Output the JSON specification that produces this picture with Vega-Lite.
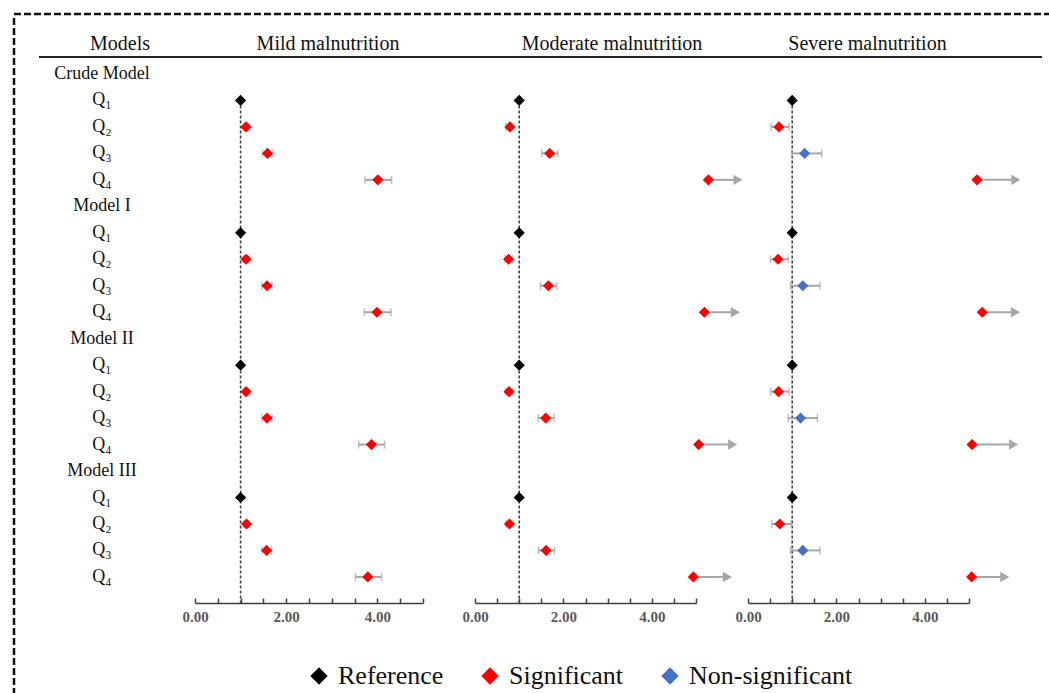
{
  "$schema": "https://vega.github.io/schema/vega-lite/v6.json",
  "padding": {"left": 12, "top": 12, "right": 0, "bottom": 0},
  "config": {
    "view": {"stroke": null},
    "font": "Liberation Serif",
    "axisX": {"grid": false, "domainColor": "#404040", "domainWidth": 1.5, "tickColor": "#404040", "tickWidth": 1.5, "tickSize": -5, "labelFont": "Liberation Serif", "labelFontSize": 15, "labelFontWeight": "bold", "labelColor": "#595959", "labelPadding": 11, "labelFlush": false, "labelOverlap": false}
  },
  "datasets": {
    "labels": [
      {"row": 0, "label": "Crude Model"}, {"row": 1, "label": "Q₁"}, {"row": 2, "label": "Q₂"}, {"row": 3, "label": "Q₃"}, {"row": 4, "label": "Q₄"},
      {"row": 5, "label": "Model I"}, {"row": 6, "label": "Q₁"}, {"row": 7, "label": "Q₂"}, {"row": 8, "label": "Q₃"}, {"row": 9, "label": "Q₄"},
      {"row": 10, "label": "Model II"}, {"row": 11, "label": "Q₁"}, {"row": 12, "label": "Q₂"}, {"row": 13, "label": "Q₃"}, {"row": 14, "label": "Q₄"},
      {"row": 15, "label": "Model III"}, {"row": 16, "label": "Q₁"}, {"row": 17, "label": "Q₂"}, {"row": 18, "label": "Q₃"}, {"row": 19, "label": "Q₄"}
    ],
    "points": [
      {"panel": "Mild", "row": 1, "est": 1, "sig": "Reference"},
      {"panel": "Mild", "row": 2, "est": 1.12, "lo": 1.06, "hi": 1.18, "sig": "Significant"},
      {"panel": "Mild", "row": 3, "est": 1.59, "lo": 1.48, "hi": 1.70, "sig": "Significant"},
      {"panel": "Mild", "row": 4, "est": 4.01, "lo": 3.73, "hi": 4.31, "sig": "Significant"},
      {"panel": "Mild", "row": 6, "est": 1, "sig": "Reference"},
      {"panel": "Mild", "row": 7, "est": 1.12, "lo": 1.06, "hi": 1.18, "sig": "Significant"},
      {"panel": "Mild", "row": 8, "est": 1.58, "lo": 1.47, "hi": 1.69, "sig": "Significant"},
      {"panel": "Mild", "row": 9, "est": 3.99, "lo": 3.71, "hi": 4.30, "sig": "Significant"},
      {"panel": "Mild", "row": 11, "est": 1, "sig": "Reference"},
      {"panel": "Mild", "row": 12, "est": 1.12, "lo": 1.06, "hi": 1.18, "sig": "Significant"},
      {"panel": "Mild", "row": 13, "est": 1.58, "lo": 1.47, "hi": 1.69, "sig": "Significant"},
      {"panel": "Mild", "row": 14, "est": 3.87, "lo": 3.59, "hi": 4.16, "sig": "Significant"},
      {"panel": "Mild", "row": 16, "est": 1, "sig": "Reference"},
      {"panel": "Mild", "row": 17, "est": 1.13, "lo": 1.07, "hi": 1.19, "sig": "Significant"},
      {"panel": "Mild", "row": 18, "est": 1.57, "lo": 1.47, "hi": 1.68, "sig": "Significant"},
      {"panel": "Mild", "row": 19, "est": 3.79, "lo": 3.52, "hi": 4.09, "sig": "Significant"},

      {"panel": "Moderate", "row": 1, "est": 1, "sig": "Reference"},
      {"panel": "Moderate", "row": 2, "est": 0.79, "lo": 0.70, "hi": 0.87, "sig": "Significant"},
      {"panel": "Moderate", "row": 3, "est": 1.69, "lo": 1.51, "hi": 1.88, "sig": "Significant"},
      {"panel": "Moderate", "row": 4, "est": 5.28, "arrow": 5.95, "sig": "Significant"},
      {"panel": "Moderate", "row": 6, "est": 1, "sig": "Reference"},
      {"panel": "Moderate", "row": 7, "est": 0.76, "lo": 0.68, "hi": 0.85, "sig": "Significant"},
      {"panel": "Moderate", "row": 8, "est": 1.66, "lo": 1.48, "hi": 1.85, "sig": "Significant"},
      {"panel": "Moderate", "row": 9, "est": 5.19, "arrow": 5.89, "sig": "Significant"},
      {"panel": "Moderate", "row": 11, "est": 1, "sig": "Reference"},
      {"panel": "Moderate", "row": 12, "est": 0.77, "lo": 0.69, "hi": 0.86, "sig": "Significant"},
      {"panel": "Moderate", "row": 13, "est": 1.60, "lo": 1.43, "hi": 1.79, "sig": "Significant"},
      {"panel": "Moderate", "row": 14, "est": 5.06, "arrow": 5.83, "sig": "Significant"},
      {"panel": "Moderate", "row": 16, "est": 1, "sig": "Reference"},
      {"panel": "Moderate", "row": 17, "est": 0.78, "lo": 0.70, "hi": 0.87, "sig": "Significant"},
      {"panel": "Moderate", "row": 18, "est": 1.61, "lo": 1.44, "hi": 1.80, "sig": "Significant"},
      {"panel": "Moderate", "row": 19, "est": 4.94, "arrow": 5.71, "sig": "Significant"},

      {"panel": "Severe", "row": 1, "est": 1, "sig": "Reference"},
      {"panel": "Severe", "row": 2, "est": 0.70, "lo": 0.52, "hi": 0.93, "sig": "Significant"},
      {"panel": "Severe", "row": 3, "est": 1.28, "lo": 0.99, "hi": 1.67, "sig": "Non-significant"},
      {"panel": "Severe", "row": 4, "est": 5.18, "arrow": 6.06, "sig": "Significant"},
      {"panel": "Severe", "row": 6, "est": 1, "sig": "Reference"},
      {"panel": "Severe", "row": 7, "est": 0.68, "lo": 0.51, "hi": 0.91, "sig": "Significant"},
      {"panel": "Severe", "row": 8, "est": 1.24, "lo": 0.96, "hi": 1.63, "sig": "Non-significant"},
      {"panel": "Severe", "row": 9, "est": 5.30, "arrow": 6.05, "sig": "Significant"},
      {"panel": "Severe", "row": 11, "est": 1, "sig": "Reference"},
      {"panel": "Severe", "row": 12, "est": 0.69, "lo": 0.52, "hi": 0.93, "sig": "Significant"},
      {"panel": "Severe", "row": 13, "est": 1.19, "lo": 0.91, "hi": 1.57, "sig": "Non-significant"},
      {"panel": "Severe", "row": 14, "est": 5.07, "arrow": 6.01, "sig": "Significant"},
      {"panel": "Severe", "row": 16, "est": 1, "sig": "Reference"},
      {"panel": "Severe", "row": 17, "est": 0.72, "lo": 0.54, "hi": 0.98, "sig": "Significant"},
      {"panel": "Severe", "row": 18, "est": 1.24, "lo": 0.96, "hi": 1.63, "sig": "Non-significant"},
      {"panel": "Severe", "row": 19, "est": 5.06, "arrow": 5.81, "sig": "Significant"}
    ]
  },
  "spacing": 0,
  "bounds": "full",
  "vconcat": [
    {
      "width": 1037, "height": 1,
      "data": {"values": [{}]},
      "mark": {"type": "rule", "color": "#111111", "strokeWidth": 2.5, "strokeDash": [7, 3]},
      "encoding": {"x": {"value": 0}, "x2": {"value": "width"}, "y": {"value": 0}}
    },
    {
      "spacing": 24,
      "bounds": "flush",
      "hconcat": [
        {
          "width": 1, "height": 679,
          "data": {"values": [{}]},
          "mark": {"type": "rule", "color": "#111111", "strokeWidth": 2.5, "strokeDash": [7, 3]},
          "encoding": {"x": {"value": 0}, "y": {"value": 0}, "y2": {"value": "height"}}
        },
        {
          "spacing": 0,
          "bounds": "full",
          "vconcat": [
            {
              "spacing": 0,
              "bounds": "flush",
              "hconcat": [
                {
                  "width": 162, "height": 39,
                  "data": {"values": [{"t": "Models"}]},
                  "layer": [
                    {"mark": {"type": "text", "font": "Liberation Serif", "fontSize": 20, "dy": 6, "color": "#111111"}, "encoding": {"text": {"field": "t"}}},
                    {"mark": {"type": "rule", "color": "#222222", "strokeWidth": 2}, "encoding": {"x": {"value": 0}, "x2": {"value": "width"}, "y": {"value": "height"}}}
                  ]
                },
                {
                  "width": 254, "height": 39,
                  "data": {"values": [{"t": "Mild malnutrition"}]},
                  "layer": [
                    {"mark": {"type": "text", "font": "Liberation Serif", "fontSize": 20, "dy": 6, "color": "#111111"}, "encoding": {"text": {"field": "t"}}},
                    {"mark": {"type": "rule", "color": "#222222", "strokeWidth": 2}, "encoding": {"x": {"value": 0}, "x2": {"value": "width"}, "y": {"value": "height"}}}
                  ]
                },
                {
                  "width": 314, "height": 39,
                  "data": {"values": [{"t": "Moderate malnutrition"}]},
                  "layer": [
                    {"mark": {"type": "text", "font": "Liberation Serif", "fontSize": 20, "dy": 6, "color": "#111111"}, "encoding": {"text": {"field": "t"}}},
                    {"mark": {"type": "rule", "color": "#222222", "strokeWidth": 2}, "encoding": {"x": {"value": 0}, "x2": {"value": "width"}, "y": {"value": "height"}}}
                  ]
                },
                {
                  "width": 273, "height": 39,
                  "data": {"values": [{"t": "Severe malnutrition"}]},
                  "layer": [
                    {"mark": {"type": "text", "font": "Liberation Serif", "fontSize": 20, "dy": 6, "dx": -38, "color": "#111111"}, "encoding": {"text": {"field": "t"}}},
                    {"mark": {"type": "rule", "color": "#222222", "strokeWidth": 2}, "encoding": {"x": {"value": 0}, "x2": {"value": "width"}, "y": {"value": "height"}}}
                  ]
                }
              ]
            },
            {
              "spacing": 52,
              "bounds": "flush",
              "hconcat": [
                {
                  "width": 104, "height": 545,
                  "data": {"name": "labels"},
                  "mark": {"type": "text", "font": "Liberation Serif", "fontSize": 18, "dx": 11, "align": "center", "baseline": "middle", "color": "#111111"},
                  "encoding": {
                    "y": {"field": "row", "type": "quantitative", "scale": {"domain": [-0.604, 19.985], "reverse": true, "nice": false, "zero": false}, "axis": null},
                    "text": {"field": "label"}
                  }
                },
                {
                  "width": 228, "height": 545,
                  "layer": [
                    {
                      "data": {"values": [{}]},
                      "mark": {"type": "rule", "color": "#444444", "strokeWidth": 1.6, "strokeDash": [3, 2]},
                      "encoding": {
                        "x": {"datum": 1, "type": "quantitative", "scale": {"domain": [0, 5], "nice": false, "zero": false}, "axis": {"values": [0, 0.5, 1, 1.5, 2, 2.5, 3, 3.5, 4, 4.5, 5], "labelExpr": "datum.value % 2 == 0 ? format(datum.value, '.2f') : ''", "title": null}},
                        "y": {"datum": 1, "type": "quantitative", "scale": {"domain": [-0.604, 19.985], "reverse": true, "nice": false, "zero": false}, "axis": null},
                        "y2": {"value": "height"}
                      }
                    },
                    {
                      "data": {"name": "points"},
                      "transform": [{"filter": "datum.panel == 'Mild' && isValid(datum.lo)"}],
                      "mark": {"type": "rule", "color": "#A6A6A6", "strokeWidth": 2},
                      "encoding": {
                        "x": {"field": "lo", "type": "quantitative", "scale": {"domain": [0, 5], "nice": false, "zero": false}, "axis": {"values": [0, 0.5, 1, 1.5, 2, 2.5, 3, 3.5, 4, 4.5, 5], "labelExpr": "datum.value % 2 == 0 ? format(datum.value, '.2f') : ''", "title": null}},
                        "x2": {"field": "hi"},
                        "y": {"field": "row", "type": "quantitative", "scale": {"domain": [-0.604, 19.985], "reverse": true, "nice": false, "zero": false}, "axis": null}
                      }
                    },
                    {
                      "data": {"name": "points"},
                      "transform": [{"filter": "datum.panel == 'Mild' && isValid(datum.lo)"}],
                      "mark": {"type": "tick", "orient": "vertical", "color": "#A6A6A6", "thickness": 1.5, "size": 8},
                      "encoding": {
                        "x": {"field": "lo", "type": "quantitative", "scale": {"domain": [0, 5], "nice": false, "zero": false}, "axis": {"values": [0, 0.5, 1, 1.5, 2, 2.5, 3, 3.5, 4, 4.5, 5], "labelExpr": "datum.value % 2 == 0 ? format(datum.value, '.2f') : ''", "title": null}},
                        "y": {"field": "row", "type": "quantitative", "scale": {"domain": [-0.604, 19.985], "reverse": true, "nice": false, "zero": false}, "axis": null}
                      }
                    },
                    {
                      "data": {"name": "points"},
                      "transform": [{"filter": "datum.panel == 'Mild' && isValid(datum.hi)"}],
                      "mark": {"type": "tick", "orient": "vertical", "color": "#A6A6A6", "thickness": 1.5, "size": 8},
                      "encoding": {
                        "x": {"field": "hi", "type": "quantitative", "scale": {"domain": [0, 5], "nice": false, "zero": false}, "axis": {"values": [0, 0.5, 1, 1.5, 2, 2.5, 3, 3.5, 4, 4.5, 5], "labelExpr": "datum.value % 2 == 0 ? format(datum.value, '.2f') : ''", "title": null}},
                        "y": {"field": "row", "type": "quantitative", "scale": {"domain": [-0.604, 19.985], "reverse": true, "nice": false, "zero": false}, "axis": null}
                      }
                    },
                    {
                      "data": {"name": "points"},
                      "transform": [{"filter": "datum.panel == 'Mild'"}],
                      "mark": {"type": "point", "shape": "diamond", "filled": true, "size": 125, "opacity": 1},
                      "encoding": {
                        "x": {"field": "est", "type": "quantitative", "scale": {"domain": [0, 5], "nice": false, "zero": false}, "axis": {"values": [0, 0.5, 1, 1.5, 2, 2.5, 3, 3.5, 4, 4.5, 5], "labelExpr": "datum.value % 2 == 0 ? format(datum.value, '.2f') : ''", "title": null}},
                        "y": {"field": "row", "type": "quantitative", "scale": {"domain": [-0.604, 19.985], "reverse": true, "nice": false, "zero": false}, "axis": null},
                        "color": {"field": "sig", "type": "nominal", "scale": {"domain": ["Reference", "Significant", "Non-significant"], "range": ["#000000", "#FF0000", "#4472C4"]},
                          "legend": {"title": null, "orient": "none", "legendX": 292, "legendY": 649, "direction": "horizontal", "symbolType": "diamond", "symbolSize": 300, "symbolStrokeWidth": 0, "labelFont": "Liberation Serif", "labelFontSize": 26, "labelColor": "#111111", "labelOffset": 6, "columnPadding": 33, "labelLimit": 0}}
                      }
                    }
                  ]
                },
                {
                  "width": 221, "height": 545,
                  "layer": [
                    {
                      "data": {"values": [{}]},
                      "mark": {"type": "rule", "color": "#444444", "strokeWidth": 1.6, "strokeDash": [3, 2]},
                      "encoding": {
                        "x": {"datum": 1, "type": "quantitative", "scale": {"domain": [0, 5], "nice": false, "zero": false}, "axis": {"values": [0, 0.5, 1, 1.5, 2, 2.5, 3, 3.5, 4, 4.5, 5], "labelExpr": "datum.value % 2 == 0 ? format(datum.value, '.2f') : ''", "title": null}},
                        "y": {"datum": 1, "type": "quantitative", "scale": {"domain": [-0.604, 19.985], "reverse": true, "nice": false, "zero": false}, "axis": null},
                        "y2": {"value": "height"}
                      }
                    },
                    {
                      "data": {"name": "points"},
                      "transform": [{"filter": "datum.panel == 'Moderate' && isValid(datum.lo)"}],
                      "mark": {"type": "rule", "color": "#A6A6A6", "strokeWidth": 2},
                      "encoding": {
                        "x": {"field": "lo", "type": "quantitative", "scale": {"domain": [0, 5], "nice": false, "zero": false}, "axis": {"values": [0, 0.5, 1, 1.5, 2, 2.5, 3, 3.5, 4, 4.5, 5], "labelExpr": "datum.value % 2 == 0 ? format(datum.value, '.2f') : ''", "title": null}},
                        "x2": {"field": "hi"},
                        "y": {"field": "row", "type": "quantitative", "scale": {"domain": [-0.604, 19.985], "reverse": true, "nice": false, "zero": false}, "axis": null}
                      }
                    },
                    {
                      "data": {"name": "points"},
                      "transform": [{"filter": "datum.panel == 'Moderate' && isValid(datum.lo)"}],
                      "mark": {"type": "tick", "orient": "vertical", "color": "#A6A6A6", "thickness": 1.5, "size": 8},
                      "encoding": {
                        "x": {"field": "lo", "type": "quantitative", "scale": {"domain": [0, 5], "nice": false, "zero": false}, "axis": {"values": [0, 0.5, 1, 1.5, 2, 2.5, 3, 3.5, 4, 4.5, 5], "labelExpr": "datum.value % 2 == 0 ? format(datum.value, '.2f') : ''", "title": null}},
                        "y": {"field": "row", "type": "quantitative", "scale": {"domain": [-0.604, 19.985], "reverse": true, "nice": false, "zero": false}, "axis": null}
                      }
                    },
                    {
                      "data": {"name": "points"},
                      "transform": [{"filter": "datum.panel == 'Moderate' && isValid(datum.hi)"}],
                      "mark": {"type": "tick", "orient": "vertical", "color": "#A6A6A6", "thickness": 1.5, "size": 8},
                      "encoding": {
                        "x": {"field": "hi", "type": "quantitative", "scale": {"domain": [0, 5], "nice": false, "zero": false}, "axis": {"values": [0, 0.5, 1, 1.5, 2, 2.5, 3, 3.5, 4, 4.5, 5], "labelExpr": "datum.value % 2 == 0 ? format(datum.value, '.2f') : ''", "title": null}},
                        "y": {"field": "row", "type": "quantitative", "scale": {"domain": [-0.604, 19.985], "reverse": true, "nice": false, "zero": false}, "axis": null}
                      }
                    },
                    {
                      "data": {"name": "points"},
                      "transform": [{"filter": "datum.panel == 'Moderate' && isValid(datum.arrow)"}],
                      "mark": {"type": "rule", "color": "#A6A6A6", "strokeWidth": 2},
                      "encoding": {
                        "x": {"field": "est", "type": "quantitative", "scale": {"domain": [0, 5], "nice": false, "zero": false}, "axis": {"values": [0, 0.5, 1, 1.5, 2, 2.5, 3, 3.5, 4, 4.5, 5], "labelExpr": "datum.value % 2 == 0 ? format(datum.value, '.2f') : ''", "title": null}},
                        "x2": {"field": "arrow"},
                        "y": {"field": "row", "type": "quantitative", "scale": {"domain": [-0.604, 19.985], "reverse": true, "nice": false, "zero": false}, "axis": null}
                      }
                    },
                    {
                      "data": {"name": "points"},
                      "transform": [{"filter": "datum.panel == 'Moderate' && isValid(datum.arrow)"}],
                      "mark": {"type": "point", "shape": "triangle-right", "filled": true, "color": "#A6A6A6", "size": 110, "opacity": 1},
                      "encoding": {
                        "x": {"field": "arrow", "type": "quantitative", "scale": {"domain": [0, 5], "nice": false, "zero": false}, "axis": {"values": [0, 0.5, 1, 1.5, 2, 2.5, 3, 3.5, 4, 4.5, 5], "labelExpr": "datum.value % 2 == 0 ? format(datum.value, '.2f') : ''", "title": null}},
                        "y": {"field": "row", "type": "quantitative", "scale": {"domain": [-0.604, 19.985], "reverse": true, "nice": false, "zero": false}, "axis": null}
                      }
                    },
                    {
                      "data": {"name": "points"},
                      "transform": [{"filter": "datum.panel == 'Moderate'"}],
                      "mark": {"type": "point", "shape": "diamond", "filled": true, "size": 125, "opacity": 1},
                      "encoding": {
                        "x": {"field": "est", "type": "quantitative", "scale": {"domain": [0, 5], "nice": false, "zero": false}, "axis": {"values": [0, 0.5, 1, 1.5, 2, 2.5, 3, 3.5, 4, 4.5, 5], "labelExpr": "datum.value % 2 == 0 ? format(datum.value, '.2f') : ''", "title": null}},
                        "y": {"field": "row", "type": "quantitative", "scale": {"domain": [-0.604, 19.985], "reverse": true, "nice": false, "zero": false}, "axis": null},
                        "color": {"field": "sig", "type": "nominal", "scale": {"domain": ["Reference", "Significant", "Non-significant"], "range": ["#000000", "#FF0000", "#4472C4"]},
                          "legend": {"title": null, "orient": "none", "legendX": 292, "legendY": 649, "direction": "horizontal", "symbolType": "diamond", "symbolSize": 300, "symbolStrokeWidth": 0, "labelFont": "Liberation Serif", "labelFontSize": 26, "labelColor": "#111111", "labelOffset": 6, "columnPadding": 33, "labelLimit": 0}}
                      }
                    }
                  ]
                },
                {
                  "width": 221, "height": 545,
                  "layer": [
                    {
                      "data": {"values": [{}]},
                      "mark": {"type": "rule", "color": "#444444", "strokeWidth": 1.6, "strokeDash": [3, 2]},
                      "encoding": {
                        "x": {"datum": 1, "type": "quantitative", "scale": {"domain": [0, 5], "nice": false, "zero": false}, "axis": {"values": [0, 0.5, 1, 1.5, 2, 2.5, 3, 3.5, 4, 4.5, 5], "labelExpr": "datum.value % 2 == 0 ? format(datum.value, '.2f') : ''", "title": null}},
                        "y": {"datum": 1, "type": "quantitative", "scale": {"domain": [-0.604, 19.985], "reverse": true, "nice": false, "zero": false}, "axis": null},
                        "y2": {"value": "height"}
                      }
                    },
                    {
                      "data": {"name": "points"},
                      "transform": [{"filter": "datum.panel == 'Severe' && isValid(datum.lo)"}],
                      "mark": {"type": "rule", "color": "#A6A6A6", "strokeWidth": 2},
                      "encoding": {
                        "x": {"field": "lo", "type": "quantitative", "scale": {"domain": [0, 5], "nice": false, "zero": false}, "axis": {"values": [0, 0.5, 1, 1.5, 2, 2.5, 3, 3.5, 4, 4.5, 5], "labelExpr": "datum.value % 2 == 0 ? format(datum.value, '.2f') : ''", "title": null}},
                        "x2": {"field": "hi"},
                        "y": {"field": "row", "type": "quantitative", "scale": {"domain": [-0.604, 19.985], "reverse": true, "nice": false, "zero": false}, "axis": null}
                      }
                    },
                    {
                      "data": {"name": "points"},
                      "transform": [{"filter": "datum.panel == 'Severe' && isValid(datum.lo)"}],
                      "mark": {"type": "tick", "orient": "vertical", "color": "#A6A6A6", "thickness": 1.5, "size": 8},
                      "encoding": {
                        "x": {"field": "lo", "type": "quantitative", "scale": {"domain": [0, 5], "nice": false, "zero": false}, "axis": {"values": [0, 0.5, 1, 1.5, 2, 2.5, 3, 3.5, 4, 4.5, 5], "labelExpr": "datum.value % 2 == 0 ? format(datum.value, '.2f') : ''", "title": null}},
                        "y": {"field": "row", "type": "quantitative", "scale": {"domain": [-0.604, 19.985], "reverse": true, "nice": false, "zero": false}, "axis": null}
                      }
                    },
                    {
                      "data": {"name": "points"},
                      "transform": [{"filter": "datum.panel == 'Severe' && isValid(datum.hi)"}],
                      "mark": {"type": "tick", "orient": "vertical", "color": "#A6A6A6", "thickness": 1.5, "size": 8},
                      "encoding": {
                        "x": {"field": "hi", "type": "quantitative", "scale": {"domain": [0, 5], "nice": false, "zero": false}, "axis": {"values": [0, 0.5, 1, 1.5, 2, 2.5, 3, 3.5, 4, 4.5, 5], "labelExpr": "datum.value % 2 == 0 ? format(datum.value, '.2f') : ''", "title": null}},
                        "y": {"field": "row", "type": "quantitative", "scale": {"domain": [-0.604, 19.985], "reverse": true, "nice": false, "zero": false}, "axis": null}
                      }
                    },
                    {
                      "data": {"name": "points"},
                      "transform": [{"filter": "datum.panel == 'Severe' && isValid(datum.arrow)"}],
                      "mark": {"type": "rule", "color": "#A6A6A6", "strokeWidth": 2},
                      "encoding": {
                        "x": {"field": "est", "type": "quantitative", "scale": {"domain": [0, 5], "nice": false, "zero": false}, "axis": {"values": [0, 0.5, 1, 1.5, 2, 2.5, 3, 3.5, 4, 4.5, 5], "labelExpr": "datum.value % 2 == 0 ? format(datum.value, '.2f') : ''", "title": null}},
                        "x2": {"field": "arrow"},
                        "y": {"field": "row", "type": "quantitative", "scale": {"domain": [-0.604, 19.985], "reverse": true, "nice": false, "zero": false}, "axis": null}
                      }
                    },
                    {
                      "data": {"name": "points"},
                      "transform": [{"filter": "datum.panel == 'Severe' && isValid(datum.arrow)"}],
                      "mark": {"type": "point", "shape": "triangle-right", "filled": true, "color": "#A6A6A6", "size": 110, "opacity": 1},
                      "encoding": {
                        "x": {"field": "arrow", "type": "quantitative", "scale": {"domain": [0, 5], "nice": false, "zero": false}, "axis": {"values": [0, 0.5, 1, 1.5, 2, 2.5, 3, 3.5, 4, 4.5, 5], "labelExpr": "datum.value % 2 == 0 ? format(datum.value, '.2f') : ''", "title": null}},
                        "y": {"field": "row", "type": "quantitative", "scale": {"domain": [-0.604, 19.985], "reverse": true, "nice": false, "zero": false}, "axis": null}
                      }
                    },
                    {
                      "data": {"name": "points"},
                      "transform": [{"filter": "datum.panel == 'Severe'"}],
                      "mark": {"type": "point", "shape": "diamond", "filled": true, "size": 125, "opacity": 1},
                      "encoding": {
                        "x": {"field": "est", "type": "quantitative", "scale": {"domain": [0, 5], "nice": false, "zero": false}, "axis": {"values": [0, 0.5, 1, 1.5, 2, 2.5, 3, 3.5, 4, 4.5, 5], "labelExpr": "datum.value % 2 == 0 ? format(datum.value, '.2f') : ''", "title": null}},
                        "y": {"field": "row", "type": "quantitative", "scale": {"domain": [-0.604, 19.985], "reverse": true, "nice": false, "zero": false}, "axis": null},
                        "color": {"field": "sig", "type": "nominal", "scale": {"domain": ["Reference", "Significant", "Non-significant"], "range": ["#000000", "#FF0000", "#4472C4"]},
                          "legend": {"title": null, "orient": "none", "legendX": 292, "legendY": 649, "direction": "horizontal", "symbolType": "diamond", "symbolSize": 300, "symbolStrokeWidth": 0, "labelFont": "Liberation Serif", "labelFontSize": 26, "labelColor": "#111111", "labelOffset": 6, "columnPadding": 33, "labelLimit": 0}}
                      }
                    }
                  ]
                }
              ]
            }
          ]
        }
      ]
    }
  ]
}
